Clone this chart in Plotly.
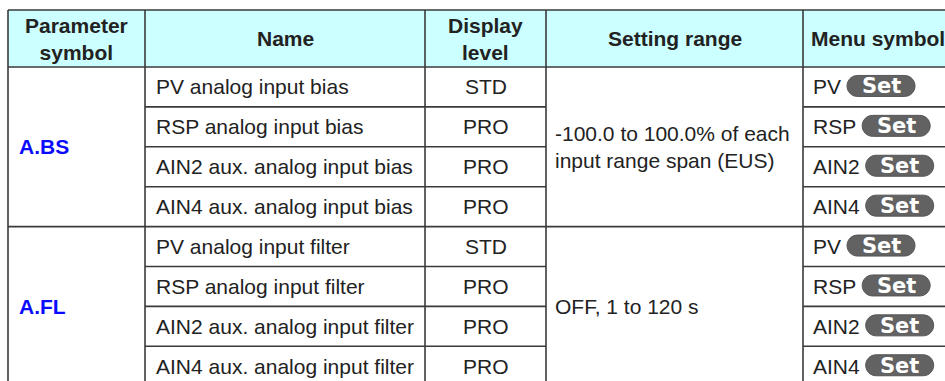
import plotly.graph_objects as go

# ---- data ----
headers = ["Parameter<br>symbol", "Name", "Display<br>level", "Setting range", "Menu symbol"]
param_symbols = ["A.BS", "A.FL"]
names = [
    "PV analog input bias", "RSP analog input bias",
    "AIN2 aux. analog input bias", "AIN4 aux. analog input bias",
    "PV analog input filter", "RSP analog input filter",
    "AIN2 aux. analog input filter", "AIN4 aux. analog input filter",
]
display_levels = ["STD", "PRO", "PRO", "PRO", "STD", "PRO", "PRO", "PRO"]
setting_ranges = ["-100.0 to 100.0% of each<br>input range span (EUS)", "OFF, 1 to 120 s"]
menu_labels = ["PV", "RSP", "AIN2", "AIN4", "PV", "RSP", "AIN2", "AIN4"]
badge_text = "Set"
rows_per_group = 4

# ---- layout constants ----
W, H = 945, 381
col_edges = [8, 145, 425, 546, 803, 953]
top, header_bottom, row_h = 10, 67, 39.9
FONT = "Liberation Sans, Arial, sans-serif"
TXT = "#222222"
LINE = "#3a3a3a"
HEADER_BG = "#ccffff"
BLUE = "#0a0aff"
FS = 21

# approximate Arial advance widths (per 1000 em) for menu labels
ARIAL_W = {"P": 667, "V": 667, "R": 722, "S": 667, "A": 667, "I": 278, "N": 722, "2": 556, "4": 556}

def text_w(s, size=FS):
    return sum(ARIAL_W.get(c, 556) for c in s) * size / 1000.0

n_rows = len(names)
row_tops = [header_bottom + i * row_h for i in range(n_rows + 1)]

fig = go.Figure()
shapes = []
ann = []

# header background
shapes.append(dict(type="rect", xref="x", yref="y", x0=col_edges[0], x1=col_edges[-1],
                   y0=top, y1=header_bottom, fillcolor=HEADER_BG, line=dict(width=0), layer="below"))

lw = 1.6
for y in (top, header_bottom):
    shapes.append(dict(type="line", xref="x", yref="y", x0=col_edges[0], x1=col_edges[-1], y0=y, y1=y,
                       line=dict(color=LINE, width=lw)))
bottom = row_tops[-1]
for x in col_edges:
    shapes.append(dict(type="line", xref="x", yref="y", x0=x, x1=x, y0=top, y1=bottom,
                       line=dict(color=LINE, width=lw)))
for i in range(1, n_rows + 1):
    y = row_tops[i]
    if i % rows_per_group == 0:
        shapes.append(dict(type="line", xref="x", yref="y", x0=col_edges[0], x1=col_edges[-1], y0=y, y1=y,
                           line=dict(color=LINE, width=lw)))
    else:
        for (a, b) in [(col_edges[1], col_edges[3]), (col_edges[4], col_edges[5])]:
            shapes.append(dict(type="line", xref="x", yref="y", x0=a, x1=b, y0=y, y1=y,
                               line=dict(color=LINE, width=lw)))

# header text
for j, h in enumerate(headers):
    cx = (col_edges[j] + col_edges[j + 1]) / 2
    ann.append(dict(x=cx, y=(top + header_bottom) / 2, xref="x", yref="y", text="<b>%s</b>" % h,
                    showarrow=False, xanchor="center", yanchor="middle",
                    font=dict(family=FONT, size=FS, color=TXT)))

# group cells
for g, sym in enumerate(param_symbols):
    gy = (row_tops[g * rows_per_group] + row_tops[(g + 1) * rows_per_group]) / 2
    ann.append(dict(x=col_edges[0] + 9, y=gy, xref="x", yref="y", text="<b>%s</b>" % sym,
                    showarrow=False, xanchor="left", yanchor="middle",
                    font=dict(family=FONT, size=FS, color=BLUE)))
    ann.append(dict(x=col_edges[3] + 7, y=gy, xref="x", yref="y", text=setting_ranges[g],
                    showarrow=False, xanchor="left", yanchor="middle", align="left",
                    font=dict(family=FONT, size=FS, color=TXT)))

# rows
for i in range(n_rows):
    cy = (row_tops[i] + row_tops[i + 1]) / 2
    ann.append(dict(x=col_edges[1] + 9, y=cy, xref="x", yref="y", text=names[i],
                    showarrow=False, xanchor="left", yanchor="middle",
                    font=dict(family=FONT, size=FS, color=TXT)))
    ann.append(dict(x=(col_edges[2] + col_edges[3]) / 2, y=cy, xref="x", yref="y", text=display_levels[i],
                    showarrow=False, xanchor="center", yanchor="middle",
                    font=dict(family=FONT, size=FS, color=TXT)))
    lx = col_edges[4] + 8
    ann.append(dict(x=lx, y=cy, xref="x", yref="y", text=menu_labels[i],
                    showarrow=False, xanchor="left", yanchor="middle",
                    font=dict(family=FONT, size=FS, color=TXT)))
    bx0 = lx + text_w(menu_labels[i]) + 8
    bw, bh = 68, 21
    bx1 = bx0 + bw
    by0 = cy - 1 - bh / 2
    by1 = by0 + bh
    r = bh / 2
    k = 0.5523 * r
    mid = (by0 + by1) / 2
    path = (f"M {bx0 + r},{by0} L {bx1 - r},{by0} "
            f"C {bx1 - r + k},{by0} {bx1},{mid - k} {bx1},{mid} "
            f"C {bx1},{mid + k} {bx1 - r + k},{by1} {bx1 - r},{by1} "
            f"L {bx0 + r},{by1} "
            f"C {bx0 + r - k},{by1} {bx0},{mid + k} {bx0},{mid} "
            f"C {bx0},{mid - k} {bx0 + r - k},{by0} {bx0 + r},{by0} Z")
    shapes.append(dict(type="path", xref="x", yref="y", path=path, fillcolor="#626262",
                       line=dict(color="#555555", width=1)))
    ann.append(dict(x=(bx0 + bx1) / 2, y=mid + 0.5, xref="x", yref="y", text="<b>%s</b>" % badge_text,
                    showarrow=False, xanchor="center", yanchor="middle",
                    font=dict(family="DejaVu Sans, sans-serif", size=21, color="white")))

fig.update_layout(
    width=W, height=H, margin=dict(l=0, r=0, t=0, b=0),
    paper_bgcolor="white", plot_bgcolor="white",
    xaxis=dict(range=[0, W], visible=False, fixedrange=True),
    yaxis=dict(range=[H, 0], visible=False, fixedrange=True),
    shapes=shapes, annotations=ann, showlegend=False,
)
fig.write_html(
    "out.html",
    config={"displayModeBar": False},
    post_script="document.body.style.margin='0';document.body.style.overflow='hidden';"
                "document.documentElement.style.overflow='hidden';",
)
